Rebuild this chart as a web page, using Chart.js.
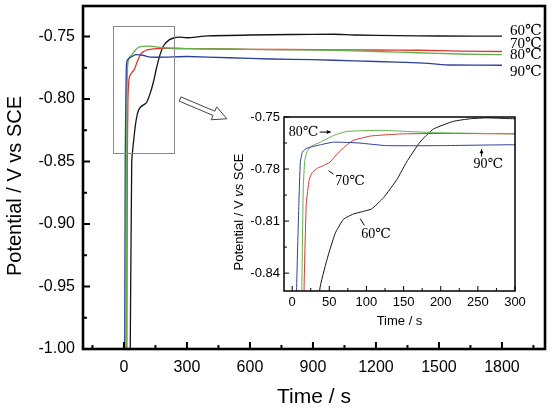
<!DOCTYPE html>
<html>
<head>
<meta charset="utf-8">
<script src="https://cdn.jsdelivr.net/npm/chart.js@4.4.1/dist/chart.umd.min.js"></script>
<style>
html, body { margin: 0; padding: 0; background: #fff; }
#wrap { position: relative; width: 554px; height: 410px; }
#main { position: absolute; left: 0; top: 0; }
#inset { position: absolute; left: 222px; top: 106px; }
</style>
</head>
<body>
<div id="wrap">
  <canvas id="main" width="554" height="410"></canvas>
  <canvas id="inset" width="310" height="230"></canvas>
</div>
<script>
// series: time (s) and potential (V vs SCE)
const t60 = [28, 37, 47, 58, 69, 82, 95, 107, 123, 141, 154, 172, 190, 217, 240, 262, 300, 400, 600, 800, 1000, 1100, 1300, 1500, 1800];
const v60 = [-1.05, -0.850, -0.832, -0.817, -0.809, -0.806, -0.8045, -0.803, -0.7965, -0.786, -0.776, -0.7645, -0.757, -0.7525, -0.751, -0.7505, -0.751, -0.7495, -0.7488, -0.7484, -0.7482, -0.7488, -0.7493, -0.7496, -0.7497];

const t70 = [13, 16, 19, 23, 27, 34, 42, 51, 58, 65, 74, 82, 95, 105, 125, 150, 200, 300, 600, 900, 1200, 1400, 1600, 1800];
const v70 = [-1.05, -0.85, -0.80, -0.786, -0.782, -0.7795, -0.778, -0.776, -0.7725, -0.7694, -0.766, -0.7635, -0.762, -0.761, -0.7603, -0.7597, -0.7595, -0.7597, -0.7603, -0.7605, -0.7608, -0.761, -0.7617, -0.762];

const t80 = [10, 13, 15, 17, 20, 25, 38, 56, 74, 120, 190, 300, 500, 700, 1000, 1200, 1400, 1600, 1800];
const v80 = [-1.05, -0.85, -0.79, -0.775, -0.770, -0.767, -0.7645, -0.7606, -0.7583, -0.7577, -0.759, -0.7597, -0.760, -0.7605, -0.761, -0.762, -0.763, -0.764, -0.7645];

const t90 = [3, 6, 9, 11, 14, 20, 38, 56, 90, 127, 200, 300, 500, 700, 900, 1100, 1300, 1450, 1550, 1800];
const v90 = [-1.05, -0.85, -0.80, -0.776, -0.770, -0.768, -0.766, -0.7645, -0.765, -0.7665, -0.7665, -0.766, -0.767, -0.768, -0.7685, -0.7695, -0.7705, -0.7715, -0.7728, -0.773];

const seriesNames = ['60℃', '70℃', '80℃', '90℃'];

// ticks
const mainXMajor = [0, 300, 600, 900, 1200, 1500, 1800];
const mainXMinor = [-150, 150, 450, 750, 1050, 1350, 1650, 1950];
const mainYMajor = [-1.00, -0.95, -0.90, -0.85, -0.80, -0.75];
const mainYMinor = [-0.975, -0.925, -0.875, -0.825, -0.775];
const insetXMajor = [0, 50, 100, 150, 200, 250, 300];
const insetXMinor = [25, 75, 125, 175, 225, 275];
const insetYMajor = [-0.84, -0.81, -0.78, -0.75];
const insetYMinor = [-0.825, -0.795, -0.765];

const colors = ['#141414', '#e3342a', '#62b04a', '#2f3f9c'];
const sans = '"Liberation Sans", Arial, sans-serif';
const serif = '"Liberation Serif", "DejaVu Serif", serif';

function pts(ts, vs) { return ts.map((t, i) => ({ x: t, y: vs[i] })); }

function datasets(width) {
  const all = [[t90, v90], [t80, v80], [t70, v70], [t60, v60]];
  const idx = [3, 2, 1, 0];
  return all.map((s, k) => ({
    label: seriesNames[idx[k]],
    data: pts(s[0], s[1]),
    borderColor: colors[idx[k]],
    borderWidth: width,
    pointRadius: 0,
    tension: 0.15,
    fill: false
  }));
}

function setTicks(major, minor) {
  return scale => {
    scale.ticks = major.concat(minor).sort((a, b) => a - b).map(v => ({ value: v }));
  };
}

function fixX(h) {
  return s => { s.height = h; s.paddingLeft = 0; s.paddingRight = 0; };
}
function fixY(w) {
  return s => { s.width = w; s.paddingTop = 0; s.paddingBottom = 0; };
}

function richText(ctx, parts, x, y, size, rotate) {
  ctx.save();
  ctx.translate(x, y);
  if (rotate) ctx.rotate(-Math.PI / 2);
  ctx.textBaseline = 'middle';
  ctx.fillStyle = '#000';
  let total = 0;
  const ws = parts.map(p => {
    ctx.font = (p.it ? 'italic ' : '') + size + 'px ' + sans;
    const w = ctx.measureText(p.s).width;
    total += w;
    return w;
  });
  let cur = -total / 2;
  parts.forEach((p, i) => {
    ctx.font = (p.it ? 'italic ' : '') + size + 'px ' + sans;
    ctx.textAlign = 'left';
    ctx.fillText(p.s, cur, 0);
    cur += ws[i];
  });
  ctx.restore();
}

function makeDeco(cfg) {
  return {
    id: 'deco',
    afterDraw(chart) {
      const { ctx, chartArea: a, scales: { x, y } } = chart;
      ctx.save();
      ctx.strokeStyle = '#000';
      ctx.lineWidth = cfg.tickWidth;
      ctx.beginPath();
      x.ticks.forEach(t => {
        const px = x.getPixelForValue(t.value);
        const len = cfg.xMajor.includes(t.value) ? cfg.major : cfg.minor;
        ctx.moveTo(px, a.bottom);
        ctx.lineTo(px, a.bottom - len);
      });
      y.ticks.forEach(t => {
        const py = y.getPixelForValue(t.value);
        const len = cfg.yMajor.includes(t.value) ? cfg.major : cfg.minor;
        ctx.moveTo(a.left, py);
        ctx.lineTo(a.left + len, py);
      });
      ctx.stroke();
      ctx.lineWidth = cfg.frame;
      ctx.strokeRect(a.left, a.top, a.right - a.left, a.bottom - a.top);
      // titles
      richText(ctx, cfg.yTitle, cfg.yTitleX, cfg.yTitleY, cfg.yTitleSize, true);
      richText(ctx, [{ s: 'Time / s' }], (a.left + a.right) / 2, cfg.xTitleY, cfg.xTitleSize, false);
      if (cfg.extra) cfg.extra(chart, ctx, x, y);
      ctx.restore();
    }
  };
}

function hollowArrow(ctx, x0, y0, x1, y1) {
  const L = Math.hypot(x1 - x0, y1 - y0);
  const ux = (x1 - x0) / L, uy = (y1 - y0) / L;
  const nx = -uy, ny = ux;
  const w = 2.3, H = 7, hl = 14;
  const bx = x1 - ux * hl, by = y1 - uy * hl;
  ctx.beginPath();
  ctx.moveTo(x0 + nx * w, y0 + ny * w);
  ctx.lineTo(bx + nx * w, by + ny * w);
  ctx.lineTo(bx + nx * H, by + ny * H);
  ctx.lineTo(x1, y1);
  ctx.lineTo(bx - nx * H, by - ny * H);
  ctx.lineTo(bx - nx * w, by - ny * w);
  ctx.lineTo(x0 - nx * w, y0 - ny * w);
  ctx.closePath();
  ctx.fillStyle = '#fff';
  ctx.fill();
  ctx.strokeStyle = '#444';
  ctx.lineWidth = 1;
  ctx.stroke();
}

function smallArrow(ctx, x0, y0, x1, y1, head) {
  ctx.beginPath();
  ctx.moveTo(x0, y0);
  ctx.lineTo(x1, y1);
  ctx.stroke();
  if (!head) return;
  const L = Math.hypot(x1 - x0, y1 - y0);
  const ux = (x1 - x0) / L, uy = (y1 - y0) / L;
  ctx.beginPath();
  ctx.moveTo(x1, y1);
  ctx.lineTo(x1 - ux * 4 - uy * 2, y1 - uy * 4 + ux * 2);
  ctx.lineTo(x1 - ux * 4 + uy * 2, y1 - uy * 4 - ux * 2);
  ctx.closePath();
  ctx.fill();
}

const mainChart = new Chart(document.getElementById('main'), {
  type: 'line',
  data: { datasets: datasets(1.3) },
  options: {
    responsive: false,
    animation: false,
    layout: { padding: { left: 0, top: 6, right: 9, bottom: 0 } },
    plugins: { legend: { display: false }, tooltip: { enabled: false } },
    scales: {
      x: {
        type: 'linear', min: -195, max: 2005,
        afterBuildTicks: setTicks(mainXMajor, mainXMinor),
        afterFit: fixX(61),
        grid: { display: false, drawTicks: false },
        border: { display: false },
        ticks: {
          autoSkip: false, maxRotation: 0, padding: 9, color: '#000',
          font: { family: sans, size: 16 },
          callback: v => mainXMajor.includes(v) ? String(v) : ''
        }
      },
      y: {
        type: 'linear', min: -1.0, max: -0.7256,
        afterBuildTicks: setTicks(mainYMajor, mainYMinor),
        afterFit: fixY(83),
        grid: { display: false, drawTicks: false },
        border: { display: false },
        ticks: {
          autoSkip: false, padding: 8, color: '#000',
          font: { family: sans, size: 16 },
          callback: v => mainYMajor.includes(v) ? v.toFixed(2) : ''
        }
      }
    }
  },
  plugins: [makeDeco({
    xMajor: mainXMajor, yMajor: mainYMajor, major: 7, minor: 4, tickWidth: 2, frame: 2.6,
    yTitle: [{ s: 'Potential / V vs SCE' }],
    yTitleSize: 20, xTitleSize: 21, yTitleX: 15, yTitleY: 186, xTitleY: 397,
    extra(chart, ctx, x, y) {
      // zoom box
      const l = x.getPixelForValue(-54), r = x.getPixelForValue(235);
      const tp = y.getPixelForValue(-0.7415), b = y.getPixelForValue(-0.8429);
      ctx.strokeStyle = '#8a8a8a';
      ctx.lineWidth = 1;
      ctx.strokeRect(Math.round(l) + 0.5, Math.round(tp) + 0.5, Math.round(r - l), Math.round(b - tp));
      hollowArrow(ctx, x.getPixelForValue(267), y.getPixelForValue(-0.800),
        x.getPixelForValue(490), y.getPixelForValue(-0.8158));
      // series labels
      ctx.fillStyle = '#000';
      ctx.font = '15px ' + serif;
      ctx.textAlign = 'left';
      ctx.textBaseline = 'middle';
      const lv = [-0.7455, -0.7558, -0.7652, -0.7783];
      seriesNames.forEach((n, i) => ctx.fillText(n, x.getPixelForValue(1838), y.getPixelForValue(lv[i])));
    }
  })]
});

const insetChart = new Chart(document.getElementById('inset'), {
  type: 'line',
  data: { datasets: datasets(1) },
  options: {
    responsive: false,
    animation: false,
    layout: { padding: { left: 0, top: 11, right: 17, bottom: 0 } },
    plugins: { legend: { display: false }, tooltip: { enabled: false } },
    scales: {
      x: {
        type: 'linear', min: -11, max: 300,
        afterBuildTicks: setTicks(insetXMajor, insetXMinor),
        afterFit: fixX(45),
        grid: { display: false, drawTicks: false },
        border: { display: false },
        ticks: {
          autoSkip: false, maxRotation: 0, padding: 4, color: '#000',
          font: { family: sans, size: 13 },
          callback: v => insetXMajor.includes(v) ? String(v) : ''
        }
      },
      y: {
        type: 'linear', min: -0.8503, max: -0.75,
        afterBuildTicks: setTicks(insetYMajor, insetYMinor),
        afterFit: fixY(62),
        grid: { display: false, drawTicks: false },
        border: { display: false },
        ticks: {
          autoSkip: false, padding: 4, color: '#000',
          font: { family: sans, size: 13 },
          callback: v => insetYMajor.includes(v) ? v.toFixed(2) : ''
        }
      }
    }
  },
  plugins: [makeDeco({
    xMajor: insetXMajor, yMajor: insetYMajor, major: 5, minor: 3, tickWidth: 1, frame: 1.5,
    yTitle: [{ s: 'Potential / V ' }, { s: 'vs', it: true }, { s: ' SCE' }],
    yTitleSize: 13, xTitleSize: 13, yTitleX: 17, yTitleY: 106, xTitleY: 215,
    extra(chart, ctx, x, y) {
      ctx.fillStyle = '#000';
      ctx.strokeStyle = '#000';
      ctx.lineWidth = 1;
      ctx.font = '14px ' + serif;
      ctx.textAlign = 'center';
      ctx.textBaseline = 'middle';
      const X = v => x.getPixelForValue(v), Y = v => y.getPixelForValue(v);
      ctx.fillText('80℃', X(15.5), Y(-0.7587));
      smallArrow(ctx, X(37), Y(-0.7587), X(52), Y(-0.7587), true);
      ctx.fillText('70℃', X(78), Y(-0.7868));
      smallArrow(ctx, X(49), Y(-0.781), X(55.6), Y(-0.7829), false);
      ctx.fillText('60℃', X(113), Y(-0.8177));
      smallArrow(ctx, X(91.5), Y(-0.8086), X(97.3), Y(-0.8125), false);
      ctx.fillText('90℃', X(264), Y(-0.7771));
      smallArrow(ctx, X(255), Y(-0.7728), X(255), Y(-0.7686), true);
    }
  })]
});
</script>
</body>
</html>
